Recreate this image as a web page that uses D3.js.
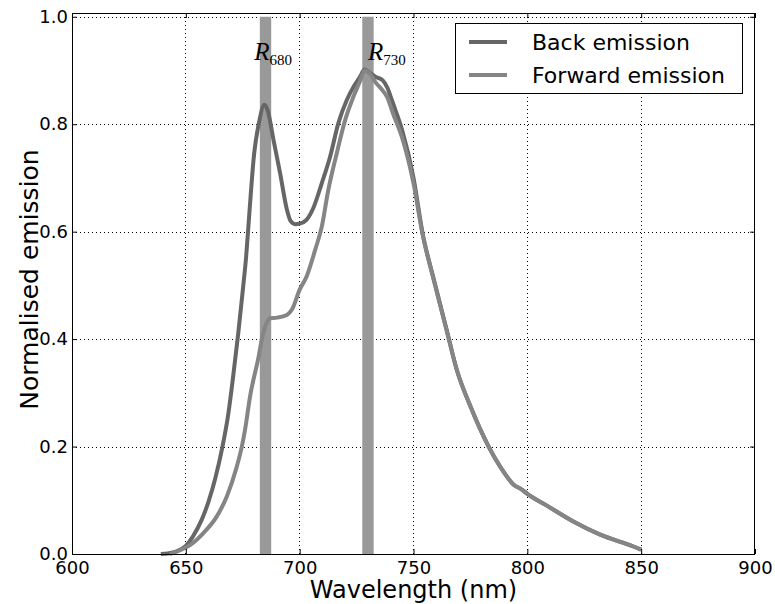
<!DOCTYPE html>
<html>
<head>
<meta charset="utf-8">
<script src="https://cdn.jsdelivr.net/npm/d3@7"></script>
<style>
  body { margin: 0; background: #fff; }
  svg { display: block; }
  text { font-family: "DejaVu Sans", sans-serif; }
</style>
</head>
<body>
<svg id="chart" width="775" height="604"></svg>
<script>
// ---- data ----
const backWavelength = [639, 642, 646, 650, 653, 657, 660, 663, 666, 668.7, 670.6, 673, 675, 676.5, 678, 680, 682, 684.5, 686, 688.5, 691.4, 694.4, 696, 698, 700, 703, 706, 709.7, 713.4, 717, 720.7, 724, 726.5, 728.5, 731, 733.5, 736.4, 738.5, 740.5, 742, 745, 750, 754, 759, 764.6, 769, 775, 783, 788, 794, 797.6, 800, 808.6, 820, 832, 846.6, 850];
const backValues     = [0, 0.001, 0.005, 0.015, 0.032, 0.064, 0.098, 0.142, 0.198, 0.262, 0.324, 0.41, 0.49, 0.554, 0.64, 0.745, 0.80, 0.836, 0.825, 0.771, 0.709, 0.641, 0.62, 0.614, 0.615, 0.622, 0.644, 0.69, 0.74, 0.802, 0.845, 0.872, 0.888, 0.902, 0.895, 0.888, 0.882, 0.868, 0.845, 0.827, 0.789, 0.70, 0.597, 0.51, 0.417, 0.343, 0.275, 0.20, 0.163, 0.129, 0.12, 0.112, 0.090, 0.061, 0.036, 0.014, 0.008];

const fwdWavelength = [643, 647.5, 652, 657.7, 663.6, 668, 672, 674.6, 676, 678.2, 682, 683.5, 685, 687, 690, 694.4, 696.6, 700, 703, 706.8, 709.7, 712.6, 716.3, 720, 723.6, 726.5, 728.5, 731, 733.5, 736, 738.5, 741, 745, 750, 754, 759, 764.6, 769, 775, 783, 788, 794, 797.6, 800, 808.6, 820, 832, 846.6, 850];
const fwdValues     = [0, 0.007, 0.017, 0.039, 0.07, 0.107, 0.157, 0.20, 0.231, 0.293, 0.368, 0.402, 0.425, 0.439, 0.44, 0.445, 0.455, 0.492, 0.516, 0.566, 0.609, 0.678, 0.746, 0.808, 0.851, 0.88, 0.90, 0.893, 0.877, 0.865, 0.85, 0.82, 0.775, 0.69, 0.595, 0.508, 0.415, 0.343, 0.275, 0.20, 0.163, 0.129, 0.12, 0.112, 0.090, 0.061, 0.036, 0.014, 0.008];

const seriesNames = ["Back emission", "Forward emission"];
const bandCenters = [685, 730];
const bandWidth = 5;
const bandLabels = [{main: "R", sub: "680", x: 680, y: 0.92}, {main: "R", sub: "730", x: 730, y: 0.92}];
const xTicks = [600, 650, 700, 750, 800, 850, 900];
const yTicks = [0.0, 0.2, 0.4, 0.6, 0.8, 1.0];

// ---- layout ----
const L = 72, R = 755, T = 13, B = 554;
const svg = d3.select("#chart");
const x = d3.scaleLinear().domain([600, 900]).range([L, R]);
const y = d3.scaleLinear().domain([0, 1.007]).range([B, T]);

const colors = ["#666666", "#858585"];
const bandColor = "#999999";

// grid
const grid = svg.append("g");
grid.selectAll("line.gx").data(xTicks.filter(d => d > 600 && d < 900)).enter().append("line")
  .attr("x1", d => x(d)).attr("x2", d => x(d)).attr("y1", T).attr("y2", B)
  .attr("stroke", "#000").attr("stroke-width", 1).attr("stroke-dasharray", "1,3")
  .attr("shape-rendering", "crispEdges");
grid.selectAll("line.gy").data(yTicks.filter(d => d > 0)).enter().append("line")
  .attr("x1", L).attr("x2", R).attr("y1", d => Math.round(y(d)) + 0.5).attr("y2", d => Math.round(y(d)) + 0.5)
  .attr("stroke", "#000").attr("stroke-width", 1).attr("stroke-dasharray", "1,3");

// bands
svg.append("g").selectAll("rect").data(bandCenters).enter().append("rect")
  .attr("x", d => x(d - bandWidth / 2))
  .attr("width", d => x(d + bandWidth / 2) - x(d - bandWidth / 2))
  .attr("y", y(1.0)).attr("height", y(0) - y(1.0))
  .attr("fill", bandColor);

// lines
const line = d3.line().x(d => x(d[0])).y(d => y(d[1])).curve(d3.curveMonotoneX);
const series = [
  d3.zip(backWavelength, backValues),
  d3.zip(fwdWavelength, fwdValues)
];
svg.append("g").selectAll("path").data(series).enter().append("path")
  .attr("d", line)
  .attr("fill", "none")
  .attr("stroke", (d, i) => colors[i])
  .attr("stroke-width", 4)
  .attr("stroke-linejoin", "round")
  .attr("stroke-linecap", "butt");

// band labels
const lab = svg.append("g").selectAll("text").data(bandLabels).enter().append("text")
  .attr("x", d => x(d.x)).attr("y", d => y(d.y))
  .style("font-family", "'Liberation Serif', serif");
lab.append("tspan").text(d => d.main).style("font-style", "italic").style("font-size", "25px");
lab.append("tspan").text(d => d.sub).attr("dy", 5).style("font-size", "15px");

// axes (ticks inward)
const ax = svg.append("g").attr("transform", `translate(0,${B})`)
  .call(d3.axisBottom(x).tickValues(xTicks).tickFormat(d3.format("d")).tickSizeInner(-5).tickSizeOuter(0).tickPadding(7));
const ay = svg.append("g").attr("transform", `translate(${L},0)`)
  .call(d3.axisLeft(y).tickValues(yTicks).tickFormat(d3.format(".1f")).tickSizeInner(-5).tickSizeOuter(0).tickPadding(4));
const axT = svg.append("g").attr("transform", `translate(0,${T})`)
  .call(d3.axisTop(x).tickValues(xTicks).tickFormat("").tickSizeInner(-5).tickSizeOuter(0));
const ayR = svg.append("g").attr("transform", `translate(${R},0)`)
  .call(d3.axisRight(y).tickValues(yTicks).tickFormat("").tickSizeInner(-5).tickSizeOuter(0));
[ax, ay, axT, ayR].forEach(g => {
  g.select(".domain").remove();
  g.selectAll(".tick line").attr("stroke", "#000");
  g.selectAll("text").style("font-family", "'DejaVu Sans', sans-serif").style("font-size", "18px").attr("fill", "#000");
});
// frame
svg.append("rect").attr("x", L + 0.5).attr("y", T + 0.5).attr("width", R - L - 1).attr("height", B - T)
  .attr("fill", "none").attr("stroke", "#000").attr("stroke-width", 1);

// axis labels
svg.append("text").attr("x", (L + R) / 2).attr("y", 598).attr("text-anchor", "middle")
  .style("font-size", "24px").text("Wavelength (nm)");
svg.append("text").attr("transform", `translate(38,${(T + B) / 2 - 4}) rotate(-90)`).attr("text-anchor", "middle")
  .style("font-size", "25px").text("Normalised emission");

// legend
const lg = svg.append("g");
lg.append("rect").attr("x", 455.5).attr("y", 23.5).attr("width", 287).attr("height", 70)
  .attr("fill", "#fff").attr("stroke", "#000").attr("stroke-width", 1);
const items = lg.selectAll("g.item").data(seriesNames).enter().append("g")
  .attr("transform", (d, i) => `translate(0,${42 + i * 33})`);
items.append("line").attr("x1", 469).attr("x2", 507).attr("y1", 0).attr("y2", 0)
  .attr("stroke", (d, i) => colors[i]).attr("stroke-width", 4);
items.append("text").attr("x", 532).attr("y", 8).style("font-size", "22px").text(d => d);
</script>
</body>
</html>
